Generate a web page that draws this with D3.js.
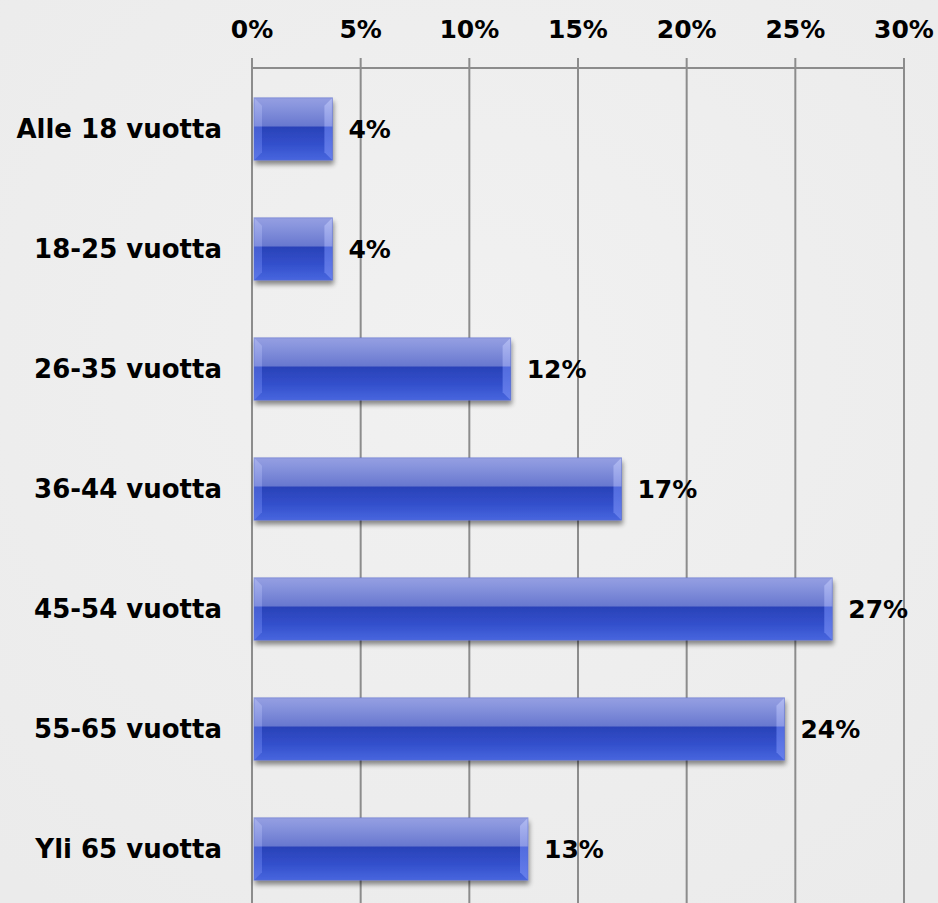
<!DOCTYPE html>
<html><head><meta charset="utf-8">
<script src="https://cdn.jsdelivr.net/npm/d3@7"></script>
<style>
html,body{margin:0;padding:0;background:#eeeeee;}
svg{display:block;}
text{font-family:"DejaVu Sans",Verdana,sans-serif;font-weight:bold;fill:#000;}
</style></head><body>
<script>
const categories = ["Alle 18 vuotta","18-25 vuotta","26-35 vuotta","36-44 vuotta","45-54 vuotta","55-65 vuotta","Yli 65 vuotta"];
const values = [3.7, 3.7, 11.9, 17.0, 26.7, 24.5, 12.7];
const valueLabels = ["4%","4%","12%","17%","27%","24%","13%"];
const tickValues = [0,5,10,15,20,25,30];
const tickLabels = ["0%","5%","10%","15%","20%","25%","30%"];

const W = 938, H = 903;
const svg = d3.select("body").append("svg").attr("width", W).attr("height", H);
const defs = svg.append("defs");

const bg = defs.append("radialGradient").attr("id","bg").attr("cx","50%").attr("cy","40%").attr("r","75%");
bg.append("stop").attr("offset","0%").attr("stop-color","#f1f1f1");
bg.append("stop").attr("offset","100%").attr("stop-color","#ebebeb");
svg.append("rect").attr("width",W).attr("height",H).attr("fill","url(#bg)");

const g1 = defs.append("linearGradient").attr("id","barGrad").attr("x1",0).attr("y1",0).attr("x2",0).attr("y2",1);
[["0%","#959fe2"],["12%","#8a96de"],["45%","#6878cf"],["47%","#2a42b8"],["75%","#3350cc"],["100%","#4866de"]]
  .forEach(([o,c])=>g1.append("stop").attr("offset",o).attr("stop-color",c));
const g2 = defs.append("linearGradient").attr("id","endGrad").attr("x1",0).attr("y1",0).attr("x2",0).attr("y2",1);
[["0%","#b4bdf2"],["45%","#8f9ce8"],["47%","#5670e2"],["100%","#6a82ee"]]
  .forEach(([o,c])=>g2.append("stop").attr("offset",o).attr("stop-color",c));
const sh = defs.append("filter").attr("id","shadow").attr("x","-5%").attr("y","-20%").attr("width","115%").attr("height","160%");
sh.append("feGaussianBlur").attr("in","SourceAlpha").attr("stdDeviation",2.5).attr("result","b");
sh.append("feOffset").attr("in","b").attr("dx",1).attr("dy",4).attr("result","o");
sh.append("feComponentTransfer").attr("in","o").attr("result","o2").append("feFuncA").attr("type","linear").attr("slope",0.45);
const mg = sh.append("feMerge"); mg.append("feMergeNode").attr("in","o2"); mg.append("feMergeNode").attr("in","SourceGraphic");

const x = d3.scaleLinear().domain([0,30]).range([252,904]);
const y = d3.scaleBand().domain(categories).range([69,909]).paddingInner(0.48).paddingOuter(0.24);

svg.append("g").selectAll("line").data(tickValues).join("line")
  .attr("x1",d=>x(d)).attr("x2",d=>x(d)).attr("y1",58).attr("y2",H)
  .attr("stroke","#8c8c8c").attr("stroke-width",2);
svg.append("line").attr("x1",x(0)).attr("x2",x(30)).attr("y1",68).attr("y2",68)
  .attr("stroke","#8c8c8c").attr("stroke-width",2);
svg.append("g").selectAll("text").data(tickValues).join("text")
  .attr("x",d=>x(d)).attr("y",38).attr("text-anchor","middle")
  .attr("font-size",25).text((d,i)=>tickLabels[i]);

svg.append("g").selectAll("text").data(categories).join("text")
  .attr("x",222).attr("y",d=>y(d)+y.bandwidth()/2).attr("dy","0.36em")
  .attr("text-anchor","end").attr("font-size",26).text(d=>d);

const bars = svg.append("g").selectAll("g").data(categories).join("g").attr("filter","url(#shadow)");
bars.append("rect").attr("x",x(0)+2).attr("y",d=>y(d))
  .attr("width",(d,i)=>x(values[i])-x(0)-2).attr("height",y.bandwidth())
  .attr("fill","url(#barGrad)");
bars.append("path").attr("d",(d,i)=>{
  const x0=x(0)+2, yt=y(d), h=y.bandwidth(), e=8;
  return `M${x0},${yt}L${x0+e},${yt+e}L${x0+e},${yt+h-e}L${x0},${yt+h}Z`;
}).attr("fill","url(#endGrad)").attr("opacity",0.6);
bars.append("path").attr("d",(d,i)=>{
  const x1=x(values[i]), yt=y(d), h=y.bandwidth(), e=8;
  return `M${x1},${yt}L${x1-e},${yt+e}L${x1-e},${yt+h-e}L${x1},${yt+h}Z`;
}).attr("fill","url(#endGrad)").attr("opacity",0.9);
bars.append("rect").attr("x",x(0)+2).attr("y",d=>y(d))
  .attr("width",(d,i)=>x(values[i])-x(0)-2).attr("height",y.bandwidth())
  .attr("fill","none").attr("stroke","#5a6ccc").attr("stroke-opacity",0.5).attr("stroke-width",1);

svg.append("g").selectAll("text").data(categories).join("text")
  .attr("x",(d,i)=>x(values[i])+16).attr("y",d=>y(d)+y.bandwidth()/2).attr("dy","0.36em")
  .attr("font-size",25).text((d,i)=>valueLabels[i]);
</script>
</body></html>
